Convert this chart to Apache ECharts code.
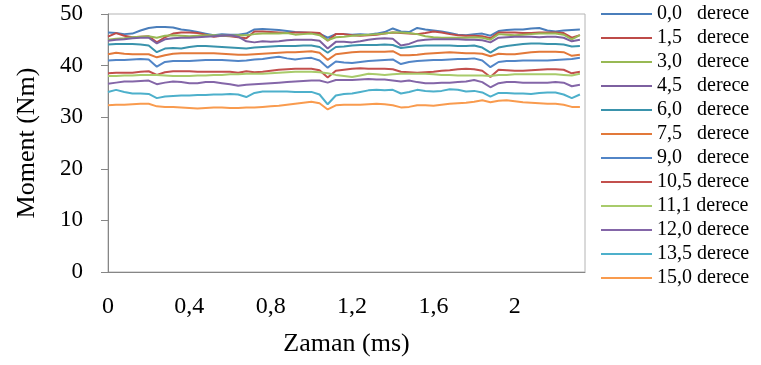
<!DOCTYPE html>
<html>
<head>
<meta charset="utf-8">
<title>Moment - Zaman</title>
<script src="https://cdn.jsdelivr.net/npm/echarts@6/dist/echarts.min.js"></script>
<style>
  html, body { margin: 0; padding: 0; background: #fff; }
  #chart { width: 761px; height: 365px; }
</style>
</head>
<body>
<div id="chart"></div>
<script>
// time axis (ms)
const times = [
  0, 0.04, 0.08, 0.12, 0.16, 0.2, 0.24, 0.28, 0.32, 0.36, 0.4, 0.44, 0.48, 0.52, 0.56,
  0.6, 0.64, 0.68, 0.72, 0.76, 0.8, 0.84, 0.88, 0.92, 0.96, 1.0, 1.04, 1.08, 1.12, 1.16,
  1.2, 1.24, 1.28, 1.32, 1.36, 1.4, 1.44, 1.48, 1.52, 1.56, 1.6, 1.64, 1.68, 1.72, 1.76,
  1.8, 1.84, 1.88, 1.92, 1.96, 2.0, 2.04, 2.08, 2.12, 2.16, 2.2, 2.24, 2.28, 2.32
];

const names = [
  "0,0   derece", "1,5   derece", "3,0   derece", "4,5   derece", "6,0   derece", "7,5   derece",
  "9,0   derece", "10,5 derece", "11,1 derece", "12,0 derece", "13,5 derece", "15,0 derece"
];

const colors = [
  "#4a7ebb", "#be4b48", "#98b954", "#7d60a0", "#3a93ac", "#e2793a",
  "#5285c7", "#c3504d", "#a8cb6b", "#8466a8", "#4db0cb", "#f99b4e"
];

// moment (Nm), one array per angle
const s00 = [
  46.4, 46.3, 46.1, 46.2, 46.8, 47.3, 47.5, 47.5, 47.4, 47.0, 46.8, 46.5, 46.2, 45.9, 46.1,
  46.0, 46.0, 46.2, 47.0, 47.1, 47.0, 46.9, 46.7, 46.5, 46.4, 46.3, 46.2, 45.4, 46.1, 46.1,
  46.0, 46.1, 46.0, 46.2, 46.5, 47.2, 46.6, 46.5, 47.3, 47.0, 46.8, 46.6, 46.3, 46.0, 45.9,
  46.1, 46.2, 45.8, 46.7, 46.9, 47.0, 47.0, 47.2, 47.3, 46.8, 46.6, 46.8, 46.9, 47.0
];
const s15 = [
  45.6, 46.3, 45.8, 45.5, 45.6, 45.7, 44.5, 45.5, 46.2, 46.4, 46.4, 46.3, 46.0, 45.6, 45.8,
  45.7, 45.5, 45.3, 46.6, 46.6, 46.5, 46.4, 46.3, 46.4, 46.4, 46.4, 46.3, 44.8, 46.1, 46.1,
  45.9, 45.8, 45.9, 46.0, 46.2, 46.4, 46.3, 46.2, 46.1, 46.3, 46.6, 46.4, 46.1, 45.9, 45.8,
  45.8, 45.7, 45.3, 46.4, 46.4, 46.4, 46.3, 46.3, 46.4, 46.4, 46.4, 46.3, 45.4, 45.9
];
const s30 = [
  45.0, 45.2, 45.3, 45.5, 45.6, 45.7, 45.4, 45.8, 45.9, 45.8, 45.7, 45.8, 45.9, 45.9, 45.8,
  45.8, 45.9, 45.9, 46.1, 46.2, 46.2, 46.2, 46.3, 46.0, 46.1, 46.2, 45.9, 44.9, 45.5, 45.6,
  45.8, 45.9, 46.0, 46.1, 46.2, 46.4, 46.4, 46.3, 46.1, 45.7, 45.5, 45.4, 45.4, 45.4, 45.4,
  45.5, 45.4, 45.0, 46.1, 46.0, 45.9, 46.0, 46.1, 46.2, 46.2, 46.2, 46.0, 45.1, 45.9
];
const s45 = [
  44.8, 45.0, 45.1, 45.3, 45.4, 45.4, 44.3, 45.1, 45.3, 45.4, 45.4, 45.5, 45.6, 45.7, 45.8,
  45.9, 45.6, 44.7, 44.5, 44.7, 44.6, 44.7, 44.9, 45.0, 45.0, 45.0, 44.8, 43.3, 44.6, 44.6,
  44.5, 44.7, 45.0, 45.2, 45.3, 45.2, 43.9, 44.2, 44.8, 45.0, 45.1, 45.1, 45.1, 45.1, 45.0,
  45.0, 44.9, 44.5, 45.4, 45.5, 45.6, 45.6, 45.6, 45.5, 45.6, 45.6, 45.4, 44.7, 45.0
];
const s60 = [
  44.1, 44.2, 44.2, 44.2, 44.1, 43.9, 42.6, 43.3, 43.4, 43.3, 43.6, 43.8, 43.8, 43.7, 43.6,
  43.5, 43.4, 43.3, 43.5, 43.6, 43.7, 43.8, 43.8, 43.8, 43.9, 43.9, 43.6, 42.5, 43.6, 43.7,
  43.9, 44.0, 44.0, 44.0, 44.1, 44.0, 43.4, 43.6, 43.8, 43.9, 43.9, 43.9, 43.9, 43.8, 43.8,
  43.9, 43.5, 42.5, 43.5, 43.8, 44.0, 44.2, 44.3, 44.3, 44.2, 44.2, 44.1, 43.7, 43.8
];
const s75 = [
  42.2, 42.5, 42.3, 42.2, 42.2, 42.2, 41.6, 42.0, 42.3, 42.4, 42.4, 42.4, 42.4, 42.4, 42.3,
  42.2, 42.1, 42.1, 42.2, 42.3, 42.4, 42.5, 42.6, 42.6, 42.7, 42.8, 42.5, 41.1, 42.2, 42.4,
  42.6, 42.7, 42.7, 42.7, 42.7, 42.8, 42.0, 42.0, 42.1, 42.3, 42.4, 42.5, 42.6, 42.5, 42.4,
  42.4, 42.3, 41.8, 42.3, 42.2, 42.2, 42.4, 42.6, 42.7, 42.7, 42.7, 42.6, 41.9, 42.1
];
const s90 = [
  41.0, 41.1, 41.1, 41.2, 41.3, 41.2, 39.8, 40.7, 40.9, 40.9, 40.9, 41.0, 41.1, 41.1, 41.1,
  41.0, 40.9, 41.0, 41.2, 41.3, 41.5, 41.7, 41.4, 41.2, 41.4, 41.5, 41.0, 39.6, 40.8, 40.6,
  40.5, 40.7, 40.9, 41.0, 41.1, 41.2, 40.3, 40.7, 40.9, 41.0, 41.1, 41.1, 41.2, 41.3, 41.3,
  41.4, 41.0, 39.7, 40.7, 40.9, 40.9, 41.0, 41.0, 41.0, 41.0, 41.1, 41.2, 41.3, 41.5
];
const s105 = [
  38.5, 38.6, 38.6, 38.6, 38.8, 38.9, 38.2, 38.7, 38.9, 38.9, 38.9, 38.8, 38.8, 38.8, 38.8,
  38.8, 38.6, 38.9, 38.7, 38.8, 39.0, 39.2, 39.3, 39.4, 39.4, 39.4, 39.1, 37.7, 39.0, 39.2,
  39.4, 39.5, 39.4, 39.4, 39.4, 39.3, 38.8, 38.7, 38.6, 38.7, 38.8, 39.0, 39.1, 39.3, 39.4,
  39.3, 39.0, 37.8, 39.2, 39.1, 39.0, 39.0, 39.1, 39.2, 39.3, 39.3, 39.2, 38.5, 38.8
];
const s111 = [
  38.0, 38.0, 38.1, 38.1, 38.2, 38.2, 38.2, 38.1, 38.0, 38.0, 38.0, 38.1, 38.1, 38.2, 38.2,
  38.3, 38.3, 38.4, 38.4, 38.4, 38.5, 38.6, 38.7, 38.8, 38.8, 38.8, 38.7, 38.5, 38.2, 38.0,
  37.8, 38.1, 38.4, 38.3, 38.2, 38.3, 38.4, 38.4, 38.4, 38.4, 38.3, 38.2, 38.2, 38.1, 38.1,
  38.1, 38.1, 38.0, 38.2, 38.2, 38.3, 38.3, 38.3, 38.3, 38.3, 38.3, 38.2, 38.1, 38.4
];
const s120 = [
  36.5, 36.7, 36.9, 36.9, 37.0, 37.1, 36.4, 36.7, 36.9, 36.8, 36.6, 36.6, 36.8, 36.8, 36.6,
  36.4, 36.1, 36.3, 36.4, 36.5, 36.6, 36.7, 36.8, 36.9, 37.0, 37.1, 37.1, 36.7, 37.2, 37.2,
  37.2, 37.3, 37.4, 37.3, 37.3, 37.1, 36.9, 37.1, 36.8, 36.6, 36.6, 36.7, 36.7, 36.8, 36.9,
  37.2, 36.8, 35.8, 36.6, 36.8, 36.8, 36.7, 36.7, 36.7, 36.7, 36.8, 36.7, 36.0, 36.3
];
const s135 = [
  34.9, 35.3, 34.9, 34.6, 34.6, 34.5, 33.7, 34.0, 34.1, 34.2, 34.2, 34.3, 34.3, 34.4, 34.4,
  34.5, 34.4, 33.9, 34.7, 35.0, 35.0, 35.0, 35.0, 34.9, 34.9, 34.9, 34.4, 32.5, 34.2, 34.5,
  34.6, 34.9, 35.2, 35.3, 35.2, 35.3, 34.6, 34.9, 35.3, 35.1, 35.0, 35.1, 35.4, 35.3, 35.0,
  35.1, 34.8, 34.0, 34.7, 34.7, 34.6, 34.6, 34.5, 34.7, 34.8, 34.8, 34.4, 33.7, 34.4
];
const s150 = [
  32.3, 32.4, 32.4, 32.5, 32.6, 32.6, 32.1, 32.0, 32.0, 31.9, 31.8, 31.7, 31.8, 31.9, 31.9,
  31.8, 31.8, 31.9, 31.9, 32.0, 32.1, 32.2, 32.4, 32.6, 32.8, 33.0, 32.7, 31.5, 32.3, 32.4,
  32.4, 32.4, 32.5, 32.6, 32.5, 32.3, 31.9, 32.0, 32.3, 32.3, 32.2, 32.4, 32.6, 32.7, 32.8,
  33.0, 33.3, 32.9, 33.2, 33.3, 33.1, 32.9, 32.8, 32.7, 32.6, 32.6, 32.4, 32.0, 32.0
];

const seriesValues = [s00, s15, s30, s45, s60, s75, s90, s105, s111, s120, s135, s150];

const font = "'Liberation Serif', 'Times New Roman', serif";
const chart = echarts.init(document.getElementById("chart"));

chart.setOption({
  animation: false,
  backgroundColor: "#ffffff",
  textStyle: { fontFamily: font, color: "#000" },
  grid: {
    left: 108,
    top: 14,
    width: 477,
    height: 258,
    show: true,
    borderColor: "#b4b4b4",
    borderWidth: 1,
  },
  legend: {
    orient: "vertical",
    left: 601,
    top: 4,
    padding: 0,
    icon: "rect",
    itemWidth: 51,
    itemHeight: 2,
    itemGap: 4,
    data: names,
    textStyle: { fontFamily: font, fontSize: 20, color: "#000", lineHeight: 20 },
  },
  xAxis: {
    type: "value",
    min: 0,
    max: 2.345,
    interval: 0.4,
    name: "Zaman (ms)",
    nameLocation: "middle",
    nameGap: 59,
    nameTextStyle: { fontFamily: font, fontSize: 26, color: "#000" },
    axisLine: { show: true, lineStyle: { color: "#868686", width: 1 } },
    axisTick: { show: false },
    splitLine: { show: false },
    axisLabel: {
      fontFamily: font,
      fontSize: 24,
      color: "#000",
      margin: 23,
      showMaxLabel: false,
      formatter: (v) => String(Math.round(v * 10) / 10).replace(".", ","),
    },
  },
  yAxis: {
    type: "value",
    min: 0,
    max: 50,
    interval: 10,
    name: "Moment (Nm)",
    nameLocation: "middle",
    nameGap: 68,
    nameTextStyle: { fontFamily: font, fontSize: 26, color: "#000" },
    axisLine: { show: true, lineStyle: { color: "#868686", width: 1 } },
    axisTick: { show: true, inside: false, length: 7, lineStyle: { color: "#868686" } },
    splitLine: { show: false },
    axisLabel: { fontFamily: font, fontSize: 23, color: "#000", margin: 25 },
  },
  series: seriesValues.map((vals, k) => ({
    name: names[k],
    type: "line",
    symbol: "none",
    color: colors[k],
    lineStyle: { width: 2, color: colors[k] },
    data: vals.map((v, i) => [times[i], v]),
  })),
});
</script>
</body>
</html>
